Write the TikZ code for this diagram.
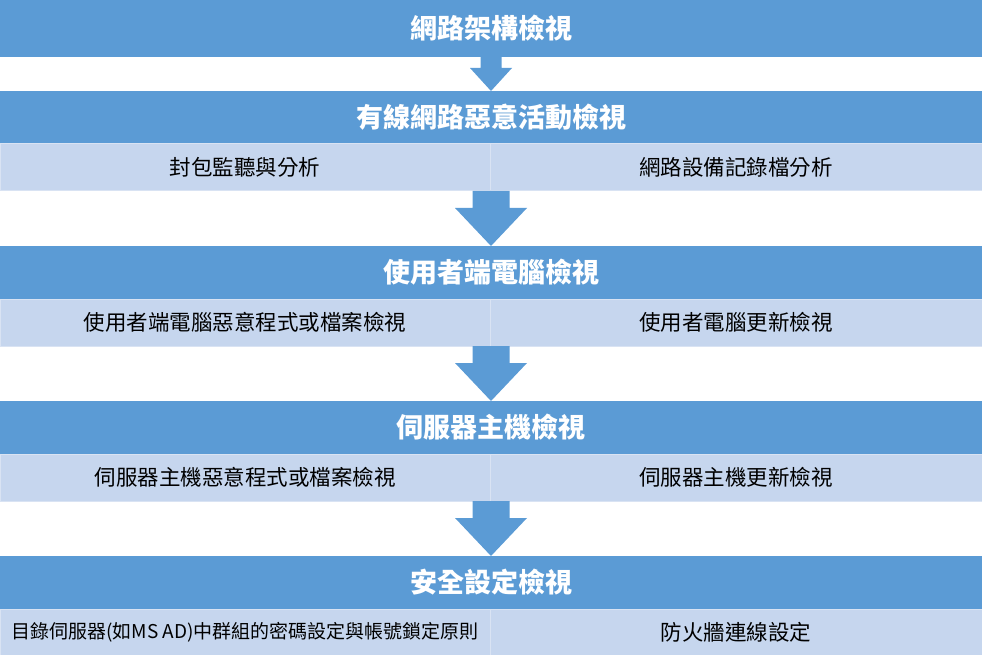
\documentclass[tikz,border=0pt]{standalone}
\usepackage{fontspec}
\newfontfamily\cjk{Noto Sans CJK TC}
\usepackage{tikz}
\usetikzlibrary{calc, positioning}
\definecolor{hdrblue}{HTML}{5B9BD5}
\definecolor{subblue}{HTML}{C6D6EE}
\definecolor{lineblue}{HTML}{D9E3F3}
\tikzset{
    headnode/.style = {draw=none, fill=hdrblue, rectangle, minimum width=982pt, minimum height=53pt,
      inner sep=0pt, outer sep=0pt, text=white, font=\cjk\bfseries\fontsize{27}{32}\selectfont},
    subnode/.style = {draw=lineblue, line width=1pt, fill=subblue, rectangle, minimum height=47pt,
      inner sep=0pt, outer sep=0pt, text=black, font=\cjk\fontsize{21.5}{26}\selectfont},
    arrowfill/.style = {fill=hdrblue, draw=none},
    every text node part/.style={align=center}
}
% block arrow: top node, bottom node, shaft half width, head half width, shaft length
\newcommand{\blockarrow}[5]{%
  \fill[arrowfill] ($(#1.south)+(-#3,0)$) -- ++(0,-#5) -- ++(#3-#4,0) -- (#2.north)
    -- ($(#1.south)+(#4,-#5)$) -- ++(#3-#4,0) -- ($(#1.south)+(#3,0)$) -- cycle;}

\begin{document}
\begin{tikzpicture}[x=1pt, y=1pt]
\useasboundingbox (0,0) rectangle (982,-655);
% top level
\node [name=net, headnode, minimum height=57pt, anchor=north] at (491,0) {網路架構檢視};
\node [name=wired, headnode, below=34pt of net] {有線網路惡意活動檢視};
\node [name=wiredA, subnode, minimum width=490pt, anchor=north west] at (wired.south west) {封包監聽與分析};
\node [name=wiredB, subnode, minimum width=492pt, anchor=north east] at (wired.south east) {網路設備記錄檔分析};
% client
\node [name=client, headnode, anchor=north] at ([yshift=-55pt]wiredA.south -| wired.south) {使用者端電腦檢視};
\node [name=clientA, subnode, minimum width=490pt, anchor=north west] at (client.south west) {使用者端電腦惡意程式或檔案檢視};
\node [name=clientB, subnode, minimum width=492pt, anchor=north east] at (client.south east) {使用者電腦更新檢視};
% server
\node [name=server, headnode, anchor=north] at ([yshift=-55pt]clientA.south -| client.south) {伺服器主機檢視};
\node [name=serverA, subnode, minimum width=490pt, anchor=north west] at (server.south west) {伺服器主機惡意程式或檔案檢視};
\node [name=serverB, subnode, minimum width=492pt, anchor=north east] at (server.south east) {伺服器主機更新檢視};
% security
\node [name=secure, headnode, anchor=north] at ([yshift=-55pt]serverA.south -| server.south) {安全設定檢視};
\node [name=secureA, subnode, minimum width=490pt, anchor=north west, font=\cjk\fontsize{19}{22}\selectfont] at (secure.south west) {目錄伺服器(如MS AD)中群組的密碼設定與帳號鎖定原則};
\node [name=secureB, subnode, minimum width=492pt, anchor=north east] at (secure.south east) {防火牆連線設定};
% arrows
\blockarrow{net}{wired}{10.5}{21}{11}
\blockarrow{wiredA.south east -| wired}{client}{18.5}{36}{17}
\blockarrow{clientA.south east -| client}{server}{18.5}{36}{17}
\blockarrow{serverA.south east -| server}{secure}{18.5}{36}{17}
\end{tikzpicture}
\end{document}
